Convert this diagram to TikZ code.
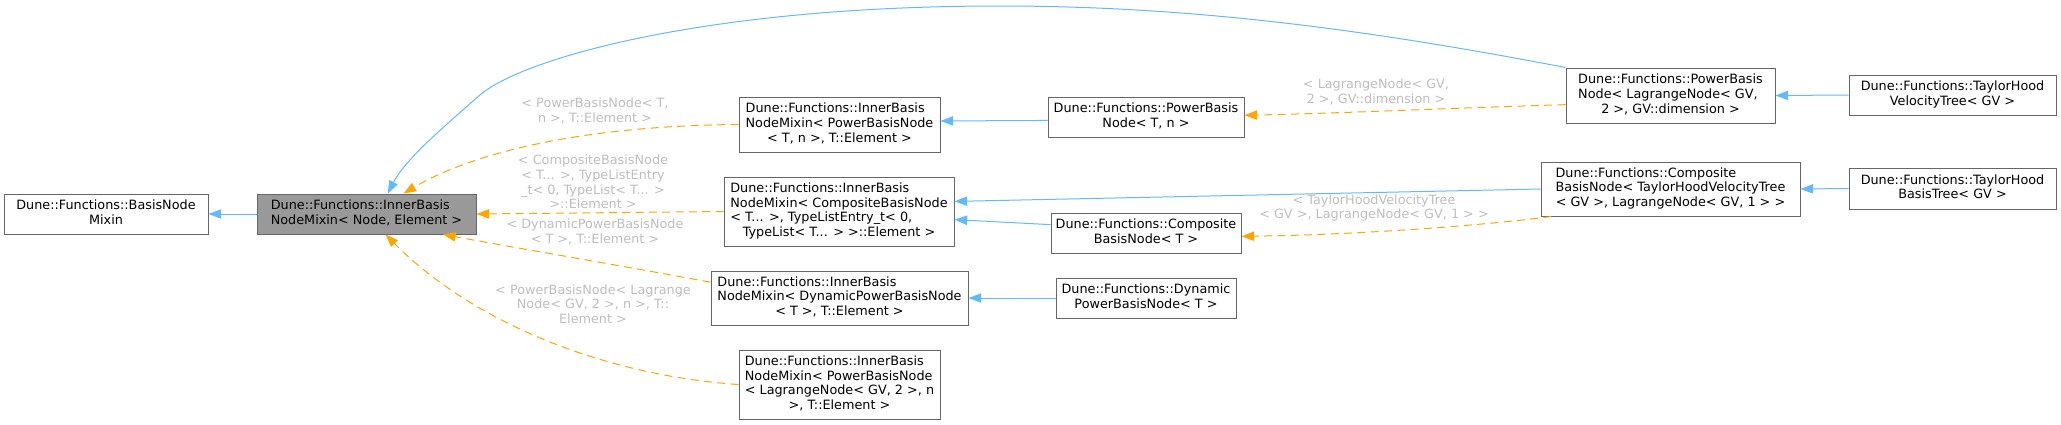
\documentclass[tikz,border=0pt]{standalone}
\usepackage{fontspec}
\usetikzlibrary{arrows.meta}
\newfontfamily\dvs{DejaVu Sans}
\newcommand{\dfont}{\dvs\fontsize{9.6}{11}\selectfont}
% left-aligned lines, last line centred
\newcommand{\boxtext}[2]{\begin{tabular}{@{}l@{}}#1\\\multicolumn{1}{@{}c@{}}{#2}\end{tabular}}
\definecolor{boxline}{HTML}{666666}
\definecolor{boxgray}{HTML}{999999}
\definecolor{inhblue}{HTML}{63B8FF}
\definecolor{tplorange}{HTML}{FFA500}
\definecolor{labelgrey}{HTML}{BEBEBE}
\begin{document}
\begin{tikzpicture}[
	x=0.75pt, y=-0.75pt,
	cls/.style={ draw=boxline, line width=0.75pt, fill=white, inner sep=0pt, font=\dfont },
	clsg/.style={ cls, fill=boxgray },
	inh/.style={ draw=inhblue, line width=0.75pt, -{Triangle[length=9.5pt,width=7pt]} },
	tpl/.style={ draw=tplorange, line width=0.75pt, dash pattern=on 6pt off 4pt, -{Triangle[length=9.5pt,width=7pt]} },
	tlabel/.style={ text=labelgrey, align=center, font=\dfont }
]
\useasboundingbox (0,0) rectangle (2061,425);

% classes
\node at (106,214) (mixin) [cls, minimum width=153pt, minimum height=30pt] {\boxtext{Dune::Functions::BasisNode}{Mixin}};
\node at (366.5,214) (inner) [clsg, minimum width=164.25pt, minimum height=30pt] {\boxtext{Dune::Functions::InnerBasis}{NodeMixin< Node, Element >}};
\node at (839.5,124.5) (ipow) [cls, minimum width=150.75pt, minimum height=41.25pt] {\boxtext{Dune::Functions::InnerBasis\\NodeMixin< PowerBasisNode}{< T, n >, T::Element >}};
\node at (839,211.5) (icomp) [cls, minimum width=172.5pt, minimum height=51.75pt] {\boxtext{Dune::Functions::InnerBasis\\NodeMixin< CompositeBasisNode\\< T... >, TypeListEntry\_t< 0,}{TypeList< T... > >::Element >}};
\node at (839.5,298) (idyn) [cls, minimum width=192.75pt, minimum height=40.5pt] {\boxtext{Dune::Functions::InnerBasis\\NodeMixin< DynamicPowerBasisNode}{< T >, T::Element >}};
\node at (839.5,384.5) (ilag) [cls, minimum width=150.75pt, minimum height=51.75pt] {\boxtext{Dune::Functions::InnerBasis\\NodeMixin< PowerBasisNode\\< LagrangeNode< GV, 2 >, n}{>, T::Element >}};
\node at (1146,117) (pow) [cls, minimum width=147pt, minimum height=30pt] {\boxtext{Dune::Functions::PowerBasis}{Node< T, n >}};
\node at (1146,233) (comp) [cls, minimum width=142.5pt, minimum height=30pt] {\boxtext{Dune::Functions::Composite}{BasisNode< T >}};
\node at (1146,298) (dyn) [cls, minimum width=135pt, minimum height=30pt] {\boxtext{Dune::Functions::Dynamic}{PowerBasisNode< T >}};
\node at (1670.5,95.5) (powlag) [cls, minimum width=156.75pt, minimum height=41.25pt] {\boxtext{Dune::Functions::PowerBasis\\Node< LagrangeNode< GV,}{2 >, GV::dimension >}};
\node at (1670.5,189) (comptay) [cls, minimum width=194.25pt, minimum height=40.5pt] {\boxtext{Dune::Functions::Composite\\BasisNode< TaylorHoodVelocityTree}{< GV >, LagrangeNode< GV, 1 > >}};
\node at (1952.5,95) (velo) [cls, minimum width=155.25pt, minimum height=30pt] {\boxtext{Dune::Functions::TaylorHood}{VelocityTree< GV >}};
\node at (1952.5,188.5) (tree) [cls, minimum width=155.25pt, minimum height=30.75pt] {\boxtext{Dune::Functions::TaylorHood}{BasisTree< GV >}};

% inheritance
\draw[inh] (inner.west) -- (mixin.east);
\draw[inh] (powlag.north west) .. controls (1380,32) and (1200,6) .. (1000,6) .. controls (700,6) and (520,60) .. (480,95) .. controls (440,130) and (405,160) .. (inner.44);
\draw[inh] (pow.182) -- (ipow.2);
\draw[inh] (comptay.west) -- (icomp.5);
\draw[inh] (comp.175) -- (icomp.-4);
\draw[inh] (dyn.west) -- (idyn.east);
\draw[inh] (velo.west) -- (powlag.east);
\draw[inh] (tree.west) -- (comptay.east);

% template instances
\draw[tpl] (ipow.west) .. controls (560,126) and (460,160) .. (inner.29);
\draw[tpl] (icomp.west) -- (inner.east);
\draw[tpl] (idyn.173) .. controls (600,262) and (500,245) .. (inner.-15);
\draw[tpl] (ilag.west) .. controls (600,375) and (470,320) .. (inner.-47);
\draw[tpl] (powlag.185) .. controls (1450,108) and (1350,113) .. (pow.1);
\draw[tpl] (comptay.193) .. controls (1480,226) and (1350,235) .. (comp.-2);

\node at (595,111) (l1) [tlabel] {< PowerBasisNode< T,\\ n >, T::Element >};
\node at (593,182) (l2) [tlabel] {< CompositeBasisNode\\< T... >, TypeListEntry\\\_t< 0, TypeList< T... >\\>::Element >};
\node at (595,232) (l3) [tlabel] {< DynamicPowerBasisNode\\< T >, T::Element >};
\node at (593,304) (l4) [tlabel] {< PowerBasisNode< Lagrange\\Node< GV, 2 >, n >, T::\\Element >};
\node at (1376,92) (l5) [tlabel] {< LagrangeNode< GV,\\2 >, GV::dimension >};
\node at (1374,208) (l6) [tlabel] {< TaylorHoodVelocityTree\\< GV >, LagrangeNode< GV, 1 > >};

\end{tikzpicture}
\end{document}
